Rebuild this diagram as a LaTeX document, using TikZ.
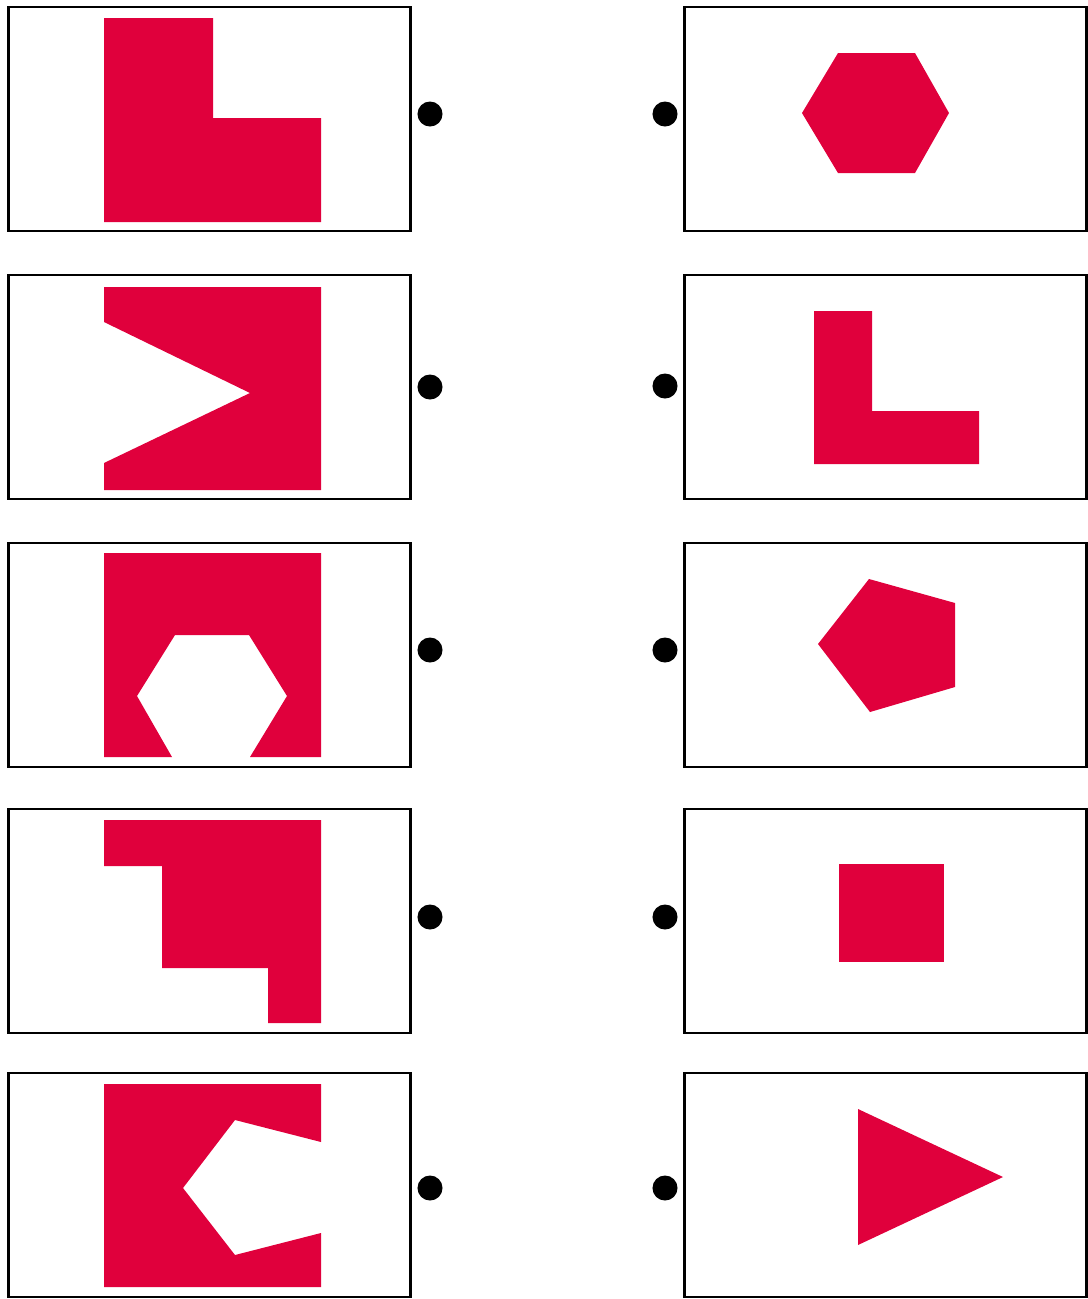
\documentclass[tikz,border=0pt]{standalone}
\usepackage{tikz}
\usetikzlibrary{positioning}
\definecolor{piecered}{RGB}{224,0,60}

\begin{document}
\begin{tikzpicture}[
    x=0.01cm, y=-0.01cm,
    card/.style={draw, line width=0.8pt, minimum width=4.02cm, minimum height=2.24cm, inner sep=0pt},
    dot/.style={circle, fill=black, minimum size=0.25cm, inner sep=0pt},
    piece/.style={fill=piecered, draw=none}
]
\useasboundingbox (0,0) rectangle (1088,1299);
% left column
\node[card] (L1) at (209.5,119) {};
\node[card] (L2) at (209.5,387) {};
\node[card] (L3) at (209.5,655) {};
\node[card] (L4) at (209.5,921) {};
\node[card] (L5) at (209.5,1185) {};
% right column
\node[card] (R1) at (885.5,119) {};
\node[card] (R2) at (885.5,387) {};
\node[card] (R3) at (885.5,655) {};
\node[card] (R4) at (885.5,921) {};
\node[card] (R5) at (885.5,1185) {};
% dots
\node[dot] (dL1) at (430,114) {};
\node[dot] (dL2) at (430,387) {};
\node[dot] (dL3) at (430,650) {};
\node[dot] (dL4) at (430,917) {};
\node[dot] (dL5) at (430,1188) {};
\node[dot] (dR1) at (665,114) {};
\node[dot] (dR2) at (665,386) {};
\node[dot] (dR3) at (665,650) {};
\node[dot] (dR4) at (665,917) {};
\node[dot] (dR5) at (665,1188) {};
% shapes with a missing part
\fill[piece] (104,18) -- (213,18) -- (213,118) -- (321,118) -- (321,222) -- (104,222) -- cycle;
\fill[piece] (104,287) -- (321,287) -- (321,490) -- (104,490) -- (104,463) -- (250,393) -- (104,322) -- cycle;
\fill[piece] (104,553) -- (321,553) -- (321,757) -- (250,757) -- (287,696) -- (249,635)
    -- (175,635) -- (137,696) -- (172,757) -- (104,757) -- cycle;
\fill[piece] (104,820) -- (321,820) -- (321,1023) -- (268,1023) -- (268,968) -- (162,968)
    -- (162,866) -- (104,866) -- cycle;
\fill[piece] (104,1084) -- (321,1084) -- (321,1142) -- (235,1120) -- (183,1188) -- (235,1255)
    -- (321,1233) -- (321,1287) -- (104,1287) -- cycle;
% the pieces
\fill[piece] (838,53) -- (915,53) -- (949,113) -- (915,173) -- (838,173) -- (802,113) -- cycle;
\fill[piece] (814,311) -- (872,311) -- (872,411) -- (979,411) -- (979,464) -- (814,464) -- cycle;
\fill[piece] (869,579) -- (955,603) -- (955,687) -- (870,712) -- (818,644) -- cycle;
\fill[piece] (839,864) rectangle (944,962);
\fill[piece] (858,1109) -- (1003,1177) -- (858,1245) -- cycle;
\end{tikzpicture}
\end{document}
